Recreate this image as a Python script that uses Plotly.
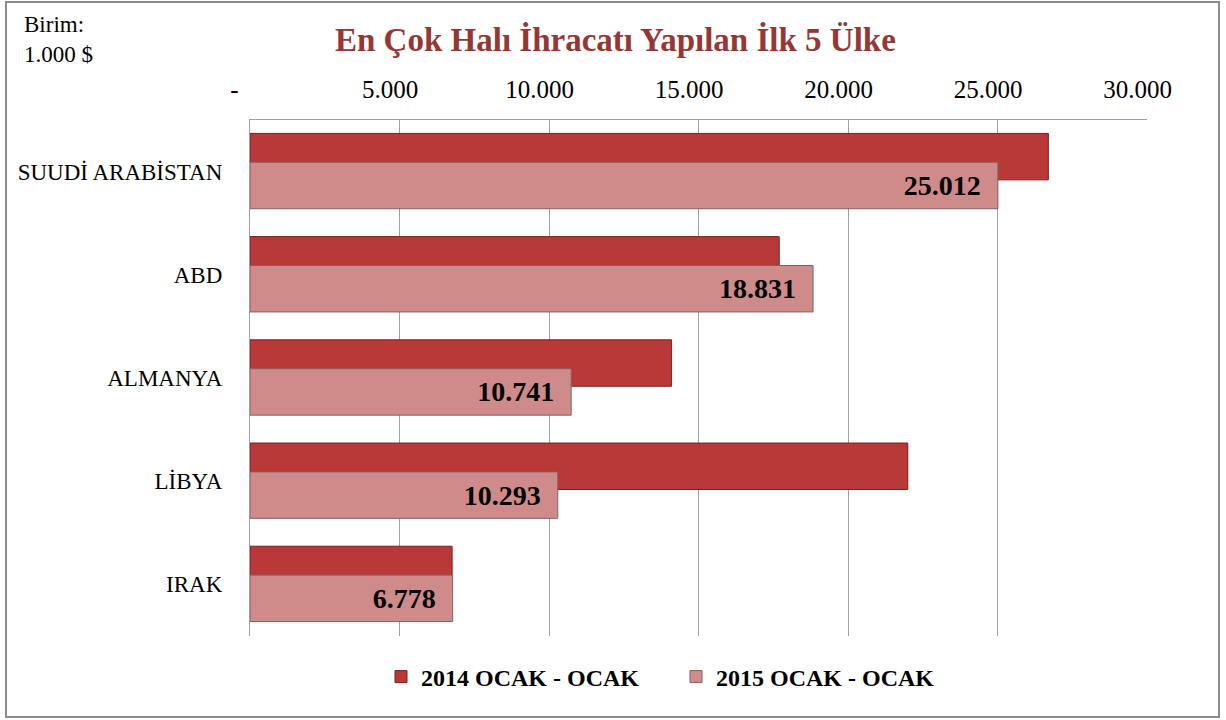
import plotly.graph_objects as go

categories = ["SUUDİ ARABİSTAN", "ABD", "ALMANYA", "LİBYA", "IRAK"]
values_2014 = [26700, 17700, 14100, 22000, 6760]
values_2015 = [25012, 18831, 10741, 10293, 6778]
labels_2015 = ["25.012", "18.831", "10.741", "10.293", "6.778"]
series_names = ["2014 OCAK - OCAK", "2015 OCAK - OCAK"]
tick_vals = [0, 5000, 10000, 15000, 20000, 25000, 30000]
tick_text = ["-", "5.000", "10.000", "15.000", "20.000", "25.000", "30.000"]

FONT = "Liberation Serif"
NB = "\u00a0"

fig = go.Figure()
fig.add_trace(go.Bar(
    y=categories, x=values_2014, orientation="h", name=series_names[0],
    width=0.45, offset=-0.37,
    marker=dict(color="#B93838", line=dict(color="#7A2020", width=1)),
    hoverinfo="x+y",
))
fig.add_trace(go.Bar(
    y=categories, x=values_2015, orientation="h", name=series_names[1],
    width=0.45, offset=-0.09,
    marker=dict(color="#CF8A8A", line=dict(color="#8A5E5E", width=1)),
    text=[t + NB * 2 for t in labels_2015], textposition="inside", insidetextanchor="end",
    textfont=dict(family=FONT, size=28, color="black", weight="bold"),
    constraintext="none", cliponaxis=False,
))

W, H = 1226, 720
L, R, T, B = 250, 1147, 120, 636
pw, ph = R - L, B - T

def px(x):
    return (x - L) / pw

def py(y):
    return (B - y) / ph

shown_ticks = [tick_text[0] + NB * 5] + [t + NB * 3 for t in tick_text[1:]]

fig.update_layout(
    width=W, height=H,
    margin=dict(l=L, r=W - R, t=T, b=H - B, pad=0),
    paper_bgcolor="white", plot_bgcolor="white",
    barmode="overlay",
    font=dict(family=FONT, size=22, color="black"),
    showlegend=True,
    legend=dict(
        orientation="h", x=px(381), y=py(677), xanchor="left", yanchor="middle",
        font=dict(family=FONT, size=24, color="black", weight="bold"),
        traceorder="normal", itemwidth=30, entrywidth=250, entrywidthmode="pixels",
    ),
    xaxis=dict(
        side="top", range=[0, 30000], tickvals=tick_vals, ticktext=shown_ticks,
        showgrid=True, gridcolor="#A0A0A0", gridwidth=1.3,
        showline=True, linecolor="#A0A0A0", linewidth=1.3,
        zeroline=False, ticks="", ticklabelstandoff=11,
        tickfont=dict(family=FONT, size=25, color="black"),
        fixedrange=True,
    ),
    yaxis=dict(
        categoryorder="array", categoryarray=categories, autorange="reversed",
        showgrid=False, showline=True, linecolor="#A0A0A0", linewidth=1.3,
        ticks="", ticklabelstandoff=22,
        tickfont=dict(family=FONT, size=23, color="black"),
        fixedrange=True,
    ),
    shapes=[
        dict(type="rect", xref="paper", yref="paper",
             x0=px(6), x1=px(1219), y0=py(717), y1=py(2),
             line=dict(color="#8C8C8C", width=2), fillcolor="rgba(0,0,0,0)", layer="below"),
    ],
    annotations=[
        dict(text="<b>En Çok Halı İhracatı Yapılan İlk 5 Ülke</b>", xref="paper", yref="paper",
             x=px(615), y=py(40), xanchor="center", yanchor="middle", showarrow=False,
             font=dict(family=FONT, size=33, color="#953735")),
        dict(text="Birim:<br>1.000 $", xref="paper", yref="paper",
             x=px(22), y=py(10), xanchor="left", yanchor="top", showarrow=False, align="left",
             font=dict(family=FONT, size=23, color="black")),
    ],
)

fig.write_html(
    "out.html",
    config={"displayModeBar": False},
    post_script="document.body.style.margin='0';document.body.style.overflow='hidden';",
)
